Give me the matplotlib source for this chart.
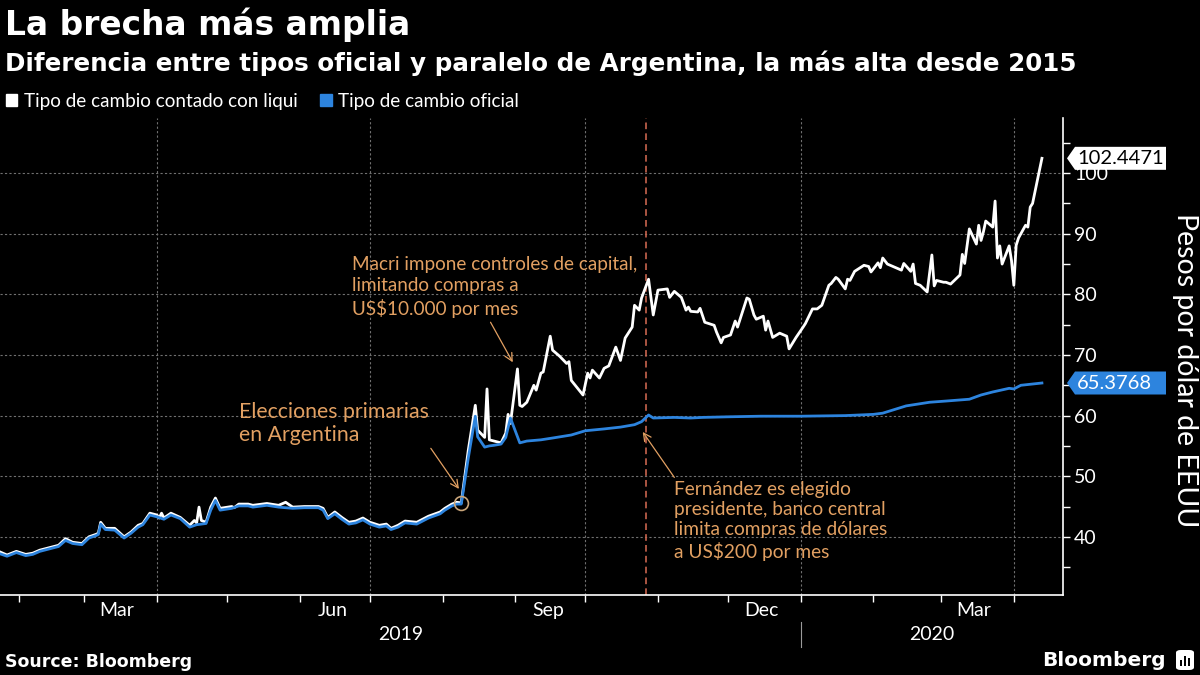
import matplotlib
matplotlib.use("Agg")
import matplotlib.pyplot as plt
import matplotlib.dates as mdates
import matplotlib.transforms as mtransforms
from matplotlib.patches import Patch, Polygon, FancyBboxPatch, Rectangle
import pandas as pd

# ---------------- data ----------------
w_dates = [
    "2019-01-24", "2019-01-27", "2019-01-31", "2019-02-04", "2019-02-07", "2019-02-10", "2019-02-15", "2019-02-18", "2019-02-21", "2019-02-24", "2019-02-28",
    "2019-03-03", "2019-03-06", "2019-03-07", "2019-03-08", "2019-03-10", "2019-03-14", "2019-03-18", "2019-03-21", "2019-03-24", "2019-03-26", "2019-03-29",
    "2019-04-01", "2019-04-02", "2019-04-03", "2019-04-04", "2019-04-07", "2019-04-11", "2019-04-15", "2019-04-17", "2019-04-18", "2019-04-19", "2019-04-20", "2019-04-22", "2019-04-24", "2019-04-26", "2019-04-28",
    "2019-05-03", "2019-05-04", "2019-05-06", "2019-05-10", "2019-05-12", "2019-05-18", "2019-05-23", "2019-05-26", "2019-05-29",
    "2019-06-03", "2019-06-09", "2019-06-11", "2019-06-13", "2019-06-16", "2019-06-19", "2019-06-22", "2019-06-25", "2019-06-28",
    "2019-07-01", "2019-07-05", "2019-07-08", "2019-07-10", "2019-07-13", "2019-07-16", "2019-07-21", "2019-07-26", "2019-07-31",
    "2019-08-02", "2019-08-05", "2019-08-07", "2019-08-09", "2019-08-12", "2019-08-15", "2019-08-16", "2019-08-19", "2019-08-20", "2019-08-21", "2019-08-23", "2019-08-26", "2019-08-28", "2019-08-29", "2019-08-30",
    "2019-09-02", "2019-09-03", "2019-09-04", "2019-09-06", "2019-09-09", "2019-09-10", "2019-09-12", "2019-09-13", "2019-09-16", "2019-09-17", "2019-09-20", "2019-09-23", "2019-09-24", "2019-09-25", "2019-09-30",
    "2019-10-02", "2019-10-03", "2019-10-04", "2019-10-07", "2019-10-09", "2019-10-11", "2019-10-14", "2019-10-16", "2019-10-18", "2019-10-21", "2019-10-22", "2019-10-24", "2019-10-25", "2019-10-28", "2019-10-30",
    "2019-11-01", "2019-11-05", "2019-11-06", "2019-11-08", "2019-11-11", "2019-11-13", "2019-11-14", "2019-11-15", "2019-11-18", "2019-11-19", "2019-11-21", "2019-11-25", "2019-11-26", "2019-11-28", "2019-11-29",
    "2019-12-02", "2019-12-04", "2019-12-05", "2019-12-09", "2019-12-10", "2019-12-12", "2019-12-13", "2019-12-16", "2019-12-17", "2019-12-18", "2019-12-20", "2019-12-23", "2019-12-26", "2019-12-27", "2019-12-30",
    "2020-01-02", "2020-01-03", "2020-01-06", "2020-01-08", "2020-01-10", "2020-01-13", "2020-01-14", "2020-01-16", "2020-01-17", "2020-01-20", "2020-01-21", "2020-01-22", "2020-01-24", "2020-01-28", "2020-01-30", "2020-01-31",
    "2020-02-03", "2020-02-04", "2020-02-05", "2020-02-07", "2020-02-10", "2020-02-13", "2020-02-14", "2020-02-17", "2020-02-18", "2020-02-19", "2020-02-21", "2020-02-24", "2020-02-26", "2020-02-27", "2020-02-28",
    "2020-03-02", "2020-03-03", "2020-03-05", "2020-03-09", "2020-03-10", "2020-03-11", "2020-03-13", "2020-03-16", "2020-03-17", "2020-03-18", "2020-03-19", "2020-03-20", "2020-03-23", "2020-03-24", "2020-03-25", "2020-03-26", "2020-03-27", "2020-03-30", "2020-03-31",
    "2020-04-01", "2020-04-02", "2020-04-03", "2020-04-06", "2020-04-07", "2020-04-08", "2020-04-09", "2020-04-13",
]
w_vals = [
    37.5, 37.0, 37.6, 37.1, 37.3, 37.8, 38.3, 38.6, 39.7, 39.1, 38.9,
    40.0, 40.4, 40.6, 42.4, 41.4, 41.4, 40.0, 40.8, 41.9, 42.2, 43.9,
    43.6, 43.1, 43.9, 43.1, 43.9, 43.2, 41.9, 42.7, 42.3, 44.9, 42.7, 42.4, 44.9, 46.4, 44.7,
    45.0, 44.8, 45.4, 45.4, 45.2, 45.5, 45.2, 45.7, 44.9,
    45.0, 45.0, 44.7, 43.2, 44.1, 43.2, 42.4, 42.6, 43.1,
    42.4, 41.9, 42.1, 41.4, 41.9, 42.6, 42.4, 43.4, 44.1,
    44.7, 45.4, 45.7, 45.6, 54.3, 61.7, 57.6, 56.4, 64.4, 56.0, 55.8, 55.5, 57.1, 60.2, 58.7,
    67.7, 61.7, 61.5, 62.2, 65.0, 64.2, 67.0, 67.2, 73.1, 70.8, 69.8, 68.6, 68.9, 65.8, 63.4,
    67.0, 66.2, 67.5, 66.2, 67.8, 68.2, 71.3, 69.1, 72.8, 74.6, 78.2, 77.4, 79.4, 82.5, 76.6,
    80.7, 80.9, 79.5, 80.5, 79.5, 77.4, 77.9, 77.2, 77.1, 77.7, 75.4, 74.9, 73.8, 72.0, 72.9,
    73.3, 75.6, 74.6, 79.4, 79.2, 76.6, 75.9, 76.4, 74.1, 75.6, 72.9, 73.6, 73.1, 71.0, 72.9,
    74.6, 75.2, 77.6, 77.6, 78.2, 81.5, 81.8, 82.8, 82.5, 80.9, 82.5, 82.3, 83.8, 84.8, 84.6, 83.7,
    85.2, 84.4, 86.0, 85.0, 84.5, 84.0, 85.1, 83.8, 85.0, 81.8, 81.5, 80.4, 86.5, 81.4, 82.3,
    82.0, 82.0, 81.7, 83.2, 86.6, 85.1, 90.8, 88.3, 91.4, 88.9, 90.3, 92.1, 91.1, 95.4, 86.0, 88.0, 85.0, 88.0, 85.6,
    81.5, 88.1, 89.3, 91.4, 91.1, 94.4, 95.0, 102.4471,
]

b_dates = [
    "2019-01-24", "2019-01-27", "2019-01-31", "2019-02-04", "2019-02-07", "2019-02-10", "2019-02-15", "2019-02-18", "2019-02-21", "2019-02-24", "2019-02-28",
    "2019-03-03", "2019-03-06", "2019-03-07", "2019-03-08", "2019-03-10", "2019-03-14", "2019-03-18", "2019-03-21", "2019-03-24", "2019-03-26", "2019-03-29",
    "2019-04-01", "2019-04-04", "2019-04-07", "2019-04-11", "2019-04-15", "2019-04-18", "2019-04-22", "2019-04-24", "2019-04-26", "2019-04-28",
    "2019-05-03", "2019-05-06", "2019-05-10", "2019-05-12", "2019-05-18", "2019-05-23", "2019-05-29",
    "2019-06-03", "2019-06-09", "2019-06-11", "2019-06-13", "2019-06-16", "2019-06-19", "2019-06-22", "2019-06-25", "2019-06-28",
    "2019-07-01", "2019-07-05", "2019-07-08", "2019-07-10", "2019-07-13", "2019-07-16", "2019-07-21", "2019-07-26", "2019-07-31",
    "2019-08-02", "2019-08-05", "2019-08-07", "2019-08-09", "2019-08-12", "2019-08-15", "2019-08-16", "2019-08-19", "2019-08-21", "2019-08-23", "2019-08-26", "2019-08-28", "2019-08-29", "2019-08-30",
    "2019-09-03", "2019-09-06", "2019-09-12", "2019-09-17", "2019-09-25",
    "2019-10-01", "2019-10-09", "2019-10-16", "2019-10-22", "2019-10-25", "2019-10-28", "2019-10-30",
    "2019-11-08", "2019-11-15", "2019-11-20", "2019-12-01", "2019-12-15",
    "2020-01-01", "2020-01-20", "2020-02-01", "2020-02-05", "2020-02-15", "2020-02-25", "2020-03-03", "2020-03-13", "2020-03-18", "2020-03-23", "2020-03-30", "2020-04-01", "2020-04-04", "2020-04-13",
]
b_vals = [
    37.2, 36.8, 37.4, 36.9, 37.1, 37.6, 38.1, 38.4, 39.4, 38.9, 38.7,
    39.8, 40.2, 40.4, 42.1, 41.2, 41.1, 39.8, 40.6, 41.6, 42.0, 43.6,
    43.3, 42.9, 43.6, 43.0, 41.6, 42.0, 42.2, 44.4, 46.0, 44.4,
    44.7, 45.1, 45.1, 44.9, 45.2, 44.9, 44.7,
    44.8, 44.8, 44.4, 43.0, 43.8, 42.9, 42.1, 42.3, 42.8,
    42.1, 41.6, 41.8, 41.2, 41.6, 42.3, 42.1, 43.1, 43.8,
    44.4, 45.1, 45.4, 45.4, 53.0, 59.9, 56.5, 54.8, 55.0, 55.1, 55.3, 56.4, 58.0, 59.6,
    55.5, 55.8, 56.0, 56.3, 56.8,
    57.5, 57.8, 58.1, 58.5, 59.0, 60.1, 59.6,
    59.7, 59.6, 59.7, 59.8, 59.9,
    59.9, 60.0, 60.2, 60.4, 61.6, 62.2, 62.4, 62.7, 63.4, 63.9, 64.5, 64.4, 65.0, 65.3768,
]

series_labels = ["Tipo de cambio contado con liqui", "Tipo de cambio oficial"]
y_ticks = [40, 50, 60, 70, 80, 90, 100]
event_primary = "2019-08-09"
event_election = "2019-10-27"

assert len(w_dates) == len(w_vals) and len(b_dates) == len(b_vals)

# ---------------- style ----------------
BG = "black"
BLUE = "#2d84de"
ORANGE = "#e2a062"
GRID = "#707070"
RED = "#c8644e"
plt.rcParams["font.family"] = ["Lato", "DejaVu Sans"]

W, H = 1200, 675
fig = plt.figure(figsize=(12, 6.75), dpi=100, facecolor=BG)
ax = fig.add_axes([0, 1 - 595 / H, 1063 / W, (595 - 118) / H])
ax.set_facecolor(BG)

wd = pd.to_datetime(w_dates)
bd = pd.to_datetime(b_dates)

ax.plot(wd, w_vals, color="white", lw=2.0, zorder=4)
ax.plot(bd, b_vals, color=BLUE, lw=2.0, zorder=5)

xmin, xmax = pd.Timestamp("2019-01-24"), pd.Timestamp("2020-04-22")
ax.set_xlim(xmin, xmax)
ax.set_ylim(30.4, 109.1)

# spines
for s in ["top", "left"]:
    ax.spines[s].set_visible(False)
for s in ["right", "bottom"]:
    ax.spines[s].set_color("white")
    ax.spines[s].set_linewidth(1.2)

# x axis
ax.xaxis.set_major_locator(mdates.MonthLocator())
ax.xaxis.set_major_formatter(plt.NullFormatter())
ax.xaxis.set_minor_locator(mdates.MonthLocator(bymonth=[3, 6, 9, 12], bymonthday=15))
ax.xaxis.set_minor_formatter(mdates.DateFormatter("%b"))
ax.tick_params(axis="x", which="major", length=5, width=1, color="white", direction="out")
ax.tick_params(axis="x", which="minor", length=0, pad=5, labelsize=14, labelcolor="white")

# y axis on right
ax.yaxis.tick_right()
ax.set_yticks(y_ticks)
ax.set_yticks([t + 5 for t in [30] + y_ticks], minor=True)
ax.tick_params(axis="y", which="both", length=5, width=1, color="white", direction="out",
               labelsize=14, labelcolor="white", pad=3)
ax.grid(axis="y", which="major", color=GRID, ls=(0, (2, 2)), lw=0.8)

# vertical quarter grid lines
for q in pd.date_range("2019-04-01", "2020-04-01", freq="QS"):
    ax.axvline(q, color=GRID, ls=(0, (2, 2)), lw=0.8, zorder=1)

# year labels + divider
blend = mtransforms.blended_transform_factory(ax.transData, ax.transAxes)
jan20 = pd.Timestamp("2020-01-01")
ax.text(xmin + (jan20 - xmin) / 2, -0.082, "2019", transform=blend, ha="center", va="center",
        color="white", fontsize=14)
ax.text(jan20 + (xmax - jan20) / 2, -0.082, "2020", transform=blend, ha="center", va="center",
        color="white", fontsize=14)
ax.plot([jan20, jan20], [-0.057, -0.11], transform=blend, color="#9a9a9a", lw=0.8, clip_on=False)

# election dashed line
ax.axvline(pd.Timestamp(event_election), color=RED, ls=(0, (4, 2.5)), lw=1.2, zorder=2)

# primaries marker
pi = w_dates.index(event_primary)
ax.plot(wd[pi], w_vals[pi], marker="o", ms=10, mfc="none", mec="#c9a57a", mew=1.2, zorder=6)

# annotations
ax.text(pd.Timestamp("2019-05-06"), 62.3, "Elecciones primarias\nen Argentina", color=ORANGE,
        fontsize=15.3, ha="left", va="top", linespacing=1.18, zorder=7)
ax.text(pd.Timestamp("2019-06-23 12:00"), 86.3,
        "Macri impone controles de capital,\nlimitando compras a\nUS$10.000 por mes",
        color=ORANGE, fontsize=13.6, ha="left", va="top", linespacing=1.3, zorder=7)
ax.text(pd.Timestamp("2019-11-07 18:00"), 49.2,
        "Fernández es elegido\npresidente, banco central\nlimita compras de dólares\na US$200 por mes",
        color=ORANGE, fontsize=13.8, ha="left", va="top", linespacing=1.22, zorder=7)

aprops = dict(arrowstyle="->,head_length=0.55,head_width=0.28", color=ORANGE, lw=0.9,
              shrinkA=0, shrinkB=0)
ax.annotate("", xy=(pd.Timestamp("2019-08-08"), 47.9), xytext=(pd.Timestamp("2019-07-27"), 54.6),
            arrowprops=aprops, zorder=7)
ax.annotate("", xy=(pd.Timestamp("2019-08-31"), 68.8), xytext=(pd.Timestamp("2019-08-21 12:00"), 75.4),
            arrowprops=aprops, zorder=7)
ax.annotate("", xy=(pd.Timestamp("2019-10-25 12:00"), 57.3), xytext=(pd.Timestamp("2019-11-08"), 49.8),
            arrowprops=aprops, zorder=7)

# value tags at right
tag_trans = mtransforms.blended_transform_factory(ax.transAxes, ax.transData)
inv = fig.transFigure.inverted()

def value_tag(val, fc, tc):
    x0, y0 = tag_trans.transform((1.0, val))
    pts = [(x0 + 4, y0), (x0 + 12, y0 - 11.5), (x0 + 103, y0 - 11.5),
           (x0 + 103, y0 + 11.5), (x0 + 12, y0 + 11.5)]
    poly = Polygon([inv.transform(p) for p in pts], closed=True, transform=fig.transFigure,
                   fc=fc, ec="none", zorder=10)
    fig.patches.append(poly)
    tx, ty = inv.transform((x0 + 14, y0))
    fig.text(tx, ty, f"{val:.4f}", color=tc, fontsize=14.5, ha="left", va="center", zorder=11)

value_tag(w_vals[-1], "white", "black")
value_tag(b_vals[-1], BLUE, "white")

# y label
fig.text(1185 / W, 1 - 370 / H, "Pesos por dólar de EEUU", rotation=270, ha="center", va="center",
         color="white", fontsize=20.5)

# titles
fig.text(5 / W, 1 - 35 / H, "La brecha más amplia", family="DejaVu Sans", fontweight="bold",
         fontsize=23.7, color="white", ha="left", va="baseline")
fig.text(5 / W, 1 - 71 / H,
         "Diferencia entre tipos oficial y paralelo de Argentina, la más alta desde 2015",
         family="DejaVu Sans", fontweight="bold", fontsize=17.7, color="white", ha="left", va="baseline")

# legend
handles = [Patch(color="white"), Patch(color=BLUE)]
fig.legend(handles, series_labels, loc="center left", bbox_to_anchor=(6 / W, 1 - 101 / H),
           ncol=2, frameon=False, fontsize=13.6, labelcolor="white", handlelength=0.6,
           handleheight=0.6, handletextpad=0.35, columnspacing=1.2, borderaxespad=0, borderpad=0)

# footer
fig.text(5 / W, 1 - 662 / H, "Source: Bloomberg", family="DejaVu Sans", fontweight="bold",
         fontsize=12.5, color="white", ha="left", va="center")
fig.text(1166 / W, 1 - 660 / H, "Bloomberg", family="DejaVu Sans", fontweight="bold",
         fontsize=14.5, color="white", ha="right", va="center")
icon = FancyBboxPatch((1176 / W, 1 - 670 / H), 18 / W, 20 / H,
                      boxstyle="round,pad=0,rounding_size=0.004", transform=fig.transFigure,
                      fc="white", ec="none")
fig.patches.append(icon)
for i, hgt in enumerate([6, 10, 8]):
    fig.patches.append(Rectangle(((1180 + i * 4) / W, 1 - 666 / H), 2.2 / W, hgt / H,
                                 transform=fig.transFigure, fc="black", ec="none"))

fig.savefig("out.png", dpi=100, facecolor=BG)
